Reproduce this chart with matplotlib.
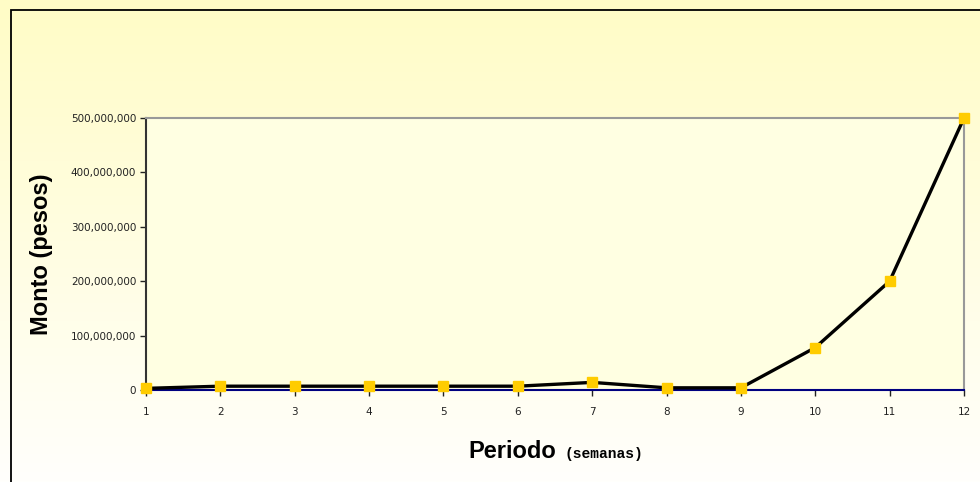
import numpy as np
import matplotlib.pyplot as plt
from matplotlib.patches import Rectangle
from matplotlib.ticker import FuncFormatter

# monto acumulado por semana
periodos = [1, 2, 3, 4, 5, 6, 7, 8, 9, 10, 11, 12]
monto = [3e6, 7e6, 7e6, 7e6, 7e6, 7e6, 14e6, 4e6, 4e6, 78e6, 200e6, 500e6]
yticks = [0, 100e6, 200e6, 300e6, 400e6, 500e6]

fig = plt.figure(figsize=(9.8, 4.82), dpi=100)
fig.patch.set_facecolor("white")

# fondo con degradado amarillo -> blanco
bg = fig.add_axes([0, 0, 1, 1], zorder=-10)
grad = np.linspace(0, 1, 256).reshape(-1, 1)
top = np.array([255, 252, 198]) / 255.0
bot = np.array([255, 255, 252]) / 255.0
img = top[None, None, :] * (1 - grad[:, :, None]) + bot[None, None, :] * grad[:, :, None]
bg.imshow(img, aspect="auto", extent=[0, 1, 0, 1])
bg.set_xlim(0, 1)
bg.set_ylim(0, 1)
bg.axis("off")

# marco del area del grafico
fig.patches.append(Rectangle((11 / 980, -0.05), 1.1, 1 - 10 / 482 + 0.05,
                             transform=fig.transFigure, fill=False,
                             edgecolor="black", linewidth=1.3, zorder=5))

ax = fig.add_axes([146 / 980, 1 - 390 / 482, (964 - 146) / 980, (390 - 118) / 482])
ax.set_facecolor("#FFFFE2")

ax.plot(periodos, monto, color="black", linewidth=2.4, marker="s",
        markersize=6.5, markerfacecolor="#FFCC00", markeredgecolor="#FFCC00",
        clip_on=False, zorder=3)

ax.set_xlim(1, 12)
ax.set_ylim(0, 500e6)
ax.set_xticks(periodos)
ax.set_yticks(yticks)
ax.yaxis.set_major_formatter(FuncFormatter(lambda v, p: f"{int(v):,}"))
ax.tick_params(axis="both", direction="out", length=4, width=1,
               labelsize=7.5, colors="#222222")
ax.tick_params(axis="y", pad=3)
ax.tick_params(axis="x", pad=8)

for s in ["top", "right"]:
    ax.spines[s].set_color("#999999")
    ax.spines[s].set_linewidth(1.5)
ax.spines["left"].set_color("#333333")
ax.spines["left"].set_linewidth(1.5)
ax.spines["bottom"].set_color("#000080")
ax.spines["bottom"].set_linewidth(1.5)

ax.set_ylabel("Monto (pesos)", fontsize=17, fontweight="bold",
              family="Liberation Sans")
ax.yaxis.set_label_coords(-0.1137, 0.5)

fig.text(0.567, 1 - 458 / 482, "Periodo", fontsize=17, fontweight="bold",
         family="Liberation Sans", ha="right", va="baseline")
fig.text(0.5765, 1 - 458 / 482, "(semanas)", fontsize=10.5, fontweight="bold",
         family="Liberation Mono", ha="left", va="baseline")

fig.savefig("out.png", dpi=100)
